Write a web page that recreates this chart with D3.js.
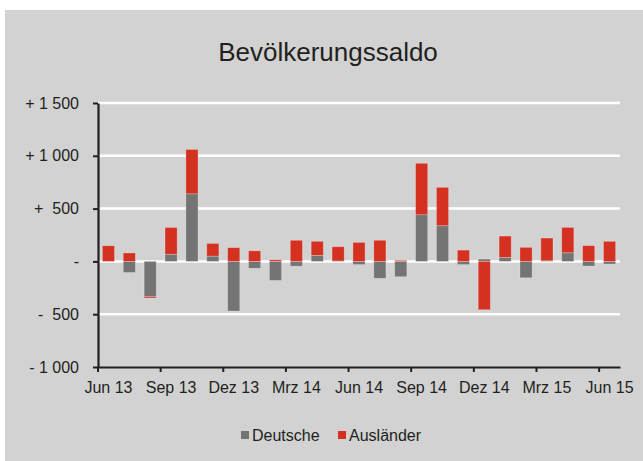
<!DOCTYPE html>
<html>
<head>
<meta charset="utf-8">
<script src="https://cdn.jsdelivr.net/npm/d3@7"></script>
<style>
  body { margin: 0; background: #fff; }
  text { font-family: "Liberation Sans", Arial, sans-serif; fill: #231f20; }
</style>
</head>
<body>
<div class="chart"></div>
<script>
// months shown on the x axis (one bar each)
var months = ["Jun 13","Jul 13","Aug 13","Sep 13","Okt 13","Nov 13","Dez 13","Jan 14","Feb 14","Mrz 14","Apr 14","Mai 14",
              "Jun 14","Jul 14","Aug 14","Sep 14","Okt 14","Nov 14","Dez 14","Jan 15","Feb 15","Mrz 15","Apr 15","Mai 15","Jun 15"];
var deutsche  = [0, -105, -335, 68, 640, 50, -470, -65, -180, -45, 57, 4, -30, -160, -145, 442, 338, -30, 22, 38, -155, 6, 82, -44, -25];
var auslaender = [148, 80, -12, 253, 420, 120, 130, 100, 15, 200, 133, 135, 180, 200, 10, 487, 363, 107, -458, 202, 133, 215, 240, 149, 190];
var seriesNames = ["Deutsche", "Ausländer"];
var yTicks = [-1000, -500, 0, 500, 1000, 1500];
var xTickLabels = ["Jun 13","Sep 13","Dez 13","Mrz 14","Jun 14","Sep 14","Dez 14","Mrz 15","Jun 15"];

var svgWidth = 643, svgHeight = 461;
var margin = { top: 103, right: 23, bottom: 94, left: 98 };
var width = svgWidth - margin.left - margin.right;
var height = svgHeight - margin.top - margin.bottom;

var colors = { "Deutsche": "#747474", "Ausländer": "#d43121" };

var svg = d3.select(".chart").append("svg")
  .attr("width", svgWidth)
  .attr("height", svgHeight);

// grey panel
svg.append("rect")
  .attr("x", 5).attr("y", 10)
  .attr("width", svgWidth - 5).attr("height", svgHeight - 10)
  .attr("fill", "#d1d2d1");

svg.append("text")
  .attr("x", 328).attr("y", 61)
  .attr("text-anchor", "middle")
  .style("font-size", "26px")
  .text("Bevölkerungssaldo");

var chartGroup = svg.append("g")
  .attr("transform", `translate(${margin.left}, ${margin.top})`);

var table = months.map(function(m, i) {
  return { month: m, "Deutsche": deutsche[i], "Ausländer": auslaender[i] };
});

var stacked = d3.stack()
  .keys(seriesNames)
  .offset(d3.stackOffsetDiverging)(table);

var xBand = d3.scaleBand().domain(months).range([0, width]).padding(0);
var yLinearScale = d3.scaleLinear().domain([-1000, 1500]).range([height, 0]);
var barW = xBand.bandwidth() * 0.58;

// white gridlines
chartGroup.selectAll(".grid")
  .data(yTicks.filter(d => d > -1000))
  .enter().append("line")
  .attr("x1", 0).attr("x2", width)
  .attr("y1", d => yLinearScale(d)).attr("y2", d => yLinearScale(d))
  .attr("stroke", "#fff")
  .attr("stroke-width", 2.5);

// bars
chartGroup.selectAll(".series")
  .data(stacked)
  .enter().append("g")
  .attr("fill", d => colors[d.key])
  .selectAll("rect")
  .data(d => d)
  .enter().append("rect")
  .attr("x", d => xBand(d.data.month) + (xBand.bandwidth() - barW) / 2)
  .attr("y", d => yLinearScale(Math.max(d[0], d[1])))
  .attr("width", barW)
  .attr("height", d => Math.abs(yLinearScale(d[0]) - yLinearScale(d[1])))
  .attr("stroke", "rgba(255,255,255,0.3)")
  .attr("stroke-width", 0.8);

// y axis
function fmtY(v) {
  if (v === 0) return "-";
  var s = Math.abs(v) >= 1000 ? Math.floor(Math.abs(v) / 1000) + " " + String(Math.abs(v) % 1000).padStart(3, "0") : " " + Math.abs(v);
  return (v > 0 ? "+ " : "- ") + s;
}
var leftAxis = d3.axisLeft(yLinearScale)
  .tickValues(yTicks)
  .tickSizeInner(5).tickSizeOuter(0)
  .tickPadding(14)
  .tickFormat(fmtY);

var yAxisG = chartGroup.append("g").call(leftAxis);
yAxisG.selectAll("text").style("font-size", "16px").style("white-space", "pre").attr("xml:space", "preserve");

// x axis: labels centred on bars, tick marks on band edges
var bottomAxis = d3.axisBottom(xBand)
  .tickValues(xTickLabels)
  .tickSizeInner(0).tickSizeOuter(0)
  .tickPadding(15);

var xAxisG = chartGroup.append("g")
  .attr("transform", `translate(0, ${height})`)
  .call(bottomAxis);
xAxisG.selectAll(".tick line")
  .attr("x1", -xBand.bandwidth() / 2).attr("x2", -xBand.bandwidth() / 2)
  .attr("y2", 5);
xAxisG.selectAll("text").style("font-size", "16px");

[yAxisG, xAxisG].forEach(function(g) {
  g.select(".domain").attr("stroke", "#231f20").attr("stroke-width", 2.2);
  g.selectAll(".tick line").attr("stroke", "#231f20").attr("stroke-width", 2);
});

// legend
var legendItems = [
  { name: "Deutsche", x: 241 },
  { name: "Ausländer", x: 338 }
];
var legend = svg.selectAll(".legend")
  .data(legendItems)
  .enter().append("g")
  .attr("transform", d => `translate(${d.x}, 431)`);
legend.append("rect")
  .attr("width", 8).attr("height", 8)
  .attr("fill", d => colors[d.name]);
legend.append("text")
  .attr("x", 11).attr("y", 9.5)
  .style("font-size", "16px")
  .text(d => d.name);
</script>
</body>
</html>
